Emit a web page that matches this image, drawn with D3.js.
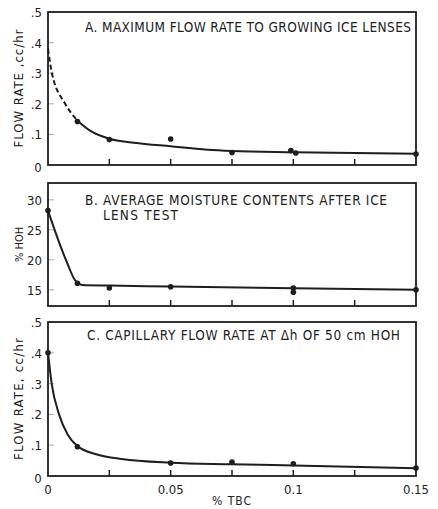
<!DOCTYPE html>
<html><head><meta charset="utf-8">
<script src="https://cdn.jsdelivr.net/npm/d3@7"></script>
<style>body{margin:0;background:#fff}svg{display:block}text{font-family:"DejaVu Sans Condensed","DejaVu Sans","Liberation Sans",sans-serif;fill:#222}</style>
</head><body><svg id="c" width="438" height="509"></svg>
<script>
// ---- data ----
const xTicks = [0, 0.025, 0.05, 0.075, 0.1, 0.125, 0.15];
const xLabels = [[0,"0"],[0.05,"0.05"],[0.1,"0.1"],[0.15,"0.15"]];
const flowTicks = [0.1,0.2,0.3,0.4,0.5];
const flowLabels = [".1",".2",".3",".4",".5"];
const moistTicks = [15,20,25,30];

// Panel A
const aPoints = [[0.012,0.142],[0.025,0.083],[0.05,0.085],[0.075,0.041],[0.099,0.047],[0.101,0.039],[0.15,0.036]];
const aDashed = [[0,0.38],[0.0016,0.3],[0.007,0.2],[0.012,0.145]];
const aCurve = [[0.012,0.145],[0.018,0.108],[0.025,0.086],[0.035,0.073],[0.05,0.061],[0.065,0.05],[0.075,0.046],[0.1,0.042],[0.15,0.037]];
// Panel B
const bPoints = [[0,28.2],[0.012,16.1],[0.025,15.3],[0.05,15.5],[0.1,15.3],[0.1,14.6],[0.15,15.0]];
const bCurve = [[0,28.2],[0.004,23.5],[0.008,19.3],[0.011,16.6],[0.014,15.8],[0.025,15.7],[0.05,15.55],[0.1,15.25],[0.15,15.0]];
// Panel C
const cPoints = [[0,0.4],[0.012,0.095],[0.05,0.042],[0.075,0.045],[0.1,0.04],[0.15,0.026]];
const cCurve = [[0,0.4],[0.0015,0.3],[0.0045,0.2],[0.008,0.135],[0.012,0.097],[0.02,0.07],[0.03,0.055],[0.05,0.043],[0.075,0.038],[0.1,0.034],[0.15,0.025]];

const svg = d3.select("#c");
const x = d3.scaleLinear().domain([0,0.15]).range([48,416]);
const ink = "#1e1e1e";

function panel(cfg){
  const y = d3.scaleLinear().domain(cfg.domain).range([cfg.bottom, cfg.top]);
  const g = svg.append("g");
  g.selectAll(".lt").data(cfg.ticks).join("line")
    .attr("x1",x(0)).attr("x2",x(0)+6).attr("y1",d=>y(d)).attr("y2",d=>y(d))
    .attr("stroke","#bbb").attr("stroke-width",1.2);
  g.selectAll(".bt").data(xTicks.slice(1,-1)).join("line")
    .attr("x1",d=>x(d)).attr("x2",d=>x(d)).attr("y1",cfg.bottom).attr("y2",cfg.bottom-6)
    .attr("stroke",ink).attr("stroke-width",1.5);
  g.append("rect").attr("x",x(0)).attr("y",cfg.top).attr("width",x(0.15)-x(0)).attr("height",cfg.bottom-cfg.top)
    .attr("fill","none").attr("stroke",ink).attr("stroke-width",1.8);
  g.selectAll(".yl").data(cfg.ticks).join("text")
    .attr("x",42).attr("y",d=>y(d)+5).attr("text-anchor","end").attr("font-size",cfg.fs)
    .text((d,i)=>cfg.labels[i]);
  g.append("text").attr("x",38).attr("y",cfg.bottom+7).attr("text-anchor","middle").attr("font-size",cfg.fs).text(cfg.zero||"");
  const yt = g.append("text").attr("transform",`translate(${cfg.titleX},${(cfg.top+cfg.bottom)/2}) rotate(-90)`)
    .attr("text-anchor","middle").attr("font-size",cfg.tfs||13).text(cfg.ytitle);
  if (cfg.tlen) yt.attr("textLength",cfg.tlen).attr("lengthAdjust","spacing");
  cfg.titles.forEach(t=>{
    g.append("text").attr("x",t.x).attr("y",t.y).attr("font-size",13.5)
      .attr("textLength",t.len).attr("lengthAdjust","spacing").text(t.s);
  });
  const line = d3.line().x(d=>x(d[0])).y(d=>y(d[1])).curve(d3.curveMonotoneX);
  cfg.curves.forEach(c=>{
    g.append("path").attr("d",line(c.data)).attr("fill","none").attr("stroke",ink)
      .attr("stroke-width",2).attr("stroke-dasharray",c.dash||null);
  });
  g.selectAll(".pt").data(cfg.points).join("circle")
    .attr("cx",d=>x(d[0])).attr("cy",d=>y(d[1])).attr("r",2.8).attr("fill",ink);
  return y;
}

panel({domain:[0,0.5],top:12,bottom:165,ticks:flowTicks,labels:flowLabels,fs:13,zero:"0",
  titleX:23,ytitle:"FLOW RATE ,cc/hr",tlen:118,
  titles:[{x:85,y:32,len:326,s:"A. MAXIMUM FLOW RATE TO GROWING ICE LENSES"}],
  curves:[{data:aDashed,dash:"5,3"},{data:aCurve}],points:aPoints});

panel({domain:[12.3,32.8],top:183,bottom:306,ticks:moistTicks,labels:moistTicks.map(String),fs:13,
  titleX:23,ytitle:"% HOH",tfs:11,
  titles:[{x:85,y:205,len:302,s:"B. AVERAGE MOISTURE CONTENTS AFTER ICE"},{x:103,y:220,len:75,s:"LENS TEST"}],
  curves:[{data:bCurve}],points:bPoints});

panel({domain:[0,0.5],top:322,bottom:476,ticks:flowTicks,labels:flowLabels,fs:13,zero:"0",
  titleX:23,ytitle:"FLOW RATE, cc/hr",tlen:122,
  titles:[{x:87,y:340,len:313,s:"C. CAPILLARY FLOW RATE AT \u0394h OF 50 cm HOH"}],
  curves:[{data:cCurve}],points:cPoints});

svg.selectAll(".xl").data(xLabels).join("text")
  .attr("x",d=>x(d[0])).attr("y",494).attr("text-anchor","middle").attr("font-size",13).text(d=>d[1]);
svg.append("text").attr("x",x(0.075)).attr("y",505).attr("text-anchor","middle").attr("font-size",12).attr("letter-spacing",1).text("% TBC");
</script></body></html>
